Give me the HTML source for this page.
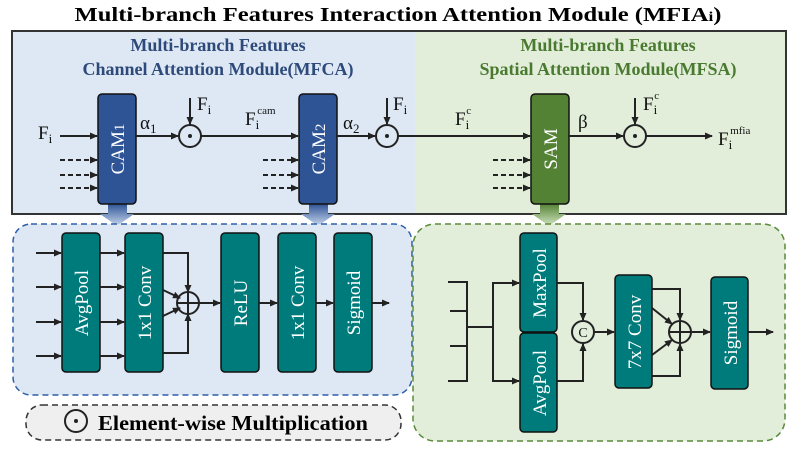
<!DOCTYPE html>
<html><head><meta charset="utf-8"><style>body{margin:0;background:#fff}svg{display:block}svg text{font-family:'Liberation Serif','Times New Roman',Times,serif}</style></head><body>
<svg width="797" height="452" viewBox="0 0 797 452" xmlns="http://www.w3.org/2000/svg" font-family="Liberation Serif, Times New Roman, serif">
<defs>
<marker id="a" markerWidth="8" markerHeight="8" refX="7" refY="4" orient="auto" markerUnits="userSpaceOnUse"><path d="M0,0.5 L8,4 L0,7.5z" fill="#222"/></marker>
<linearGradient id="gb" x1="0" y1="0" x2="0" y2="1"><stop offset="0" stop-color="#2f5496"/><stop offset="1" stop-color="#c8d8ee"/></linearGradient>
<linearGradient id="gg" x1="0" y1="0" x2="0" y2="1"><stop offset="0" stop-color="#548235"/><stop offset="1" stop-color="#d2e6c4"/></linearGradient>
</defs>
<text x="398" y="21" text-anchor="middle" font-size="20" font-weight="bold" textLength="647" lengthAdjust="spacingAndGlyphs" font-family="Liberation Serif, serif">Multi-branch Features Interaction Attention Module (MFIA<tspan font-size="14">i</tspan>)</text>
<rect x="12" y="31" width="403" height="183" fill="#dde8f4"/>
<rect x="415" y="31" width="371" height="183" fill="#e2eeda"/>
<rect x="12" y="31" width="774" height="183" fill="none" stroke="#333" stroke-width="2"/>
<g font-weight="bold" font-size="18" text-anchor="middle" fill="#2e4a7a" font-family="Liberation Serif, serif"><text x="218" y="51">Multi-branch Features</text><text x="218" y="75">Channel Attention Module(MFCA)</text></g>
<g font-weight="bold" font-size="18" text-anchor="middle" fill="#4a7a30" font-family="Liberation Serif, serif"><text x="608" y="51">Multi-branch Features</text><text x="608" y="75">Spatial Attention Module(MFSA)</text></g>
<path d="M108,204 H127 V214 H134 L117,226 L100,214 H108z" fill="url(#gb)"/>
<path d="M309,204 H328 V214 H335 L318,226 L301,214 H309z" fill="url(#gb)"/>
<path d="M540,204 H559 V214 H566 L549,226 L532,214 H540z" fill="url(#gg)"/>
<rect x="98" y="94" width="38" height="110" rx="4" fill="#2f5496" stroke="#111" stroke-width="1.5"/>
<rect x="299" y="94" width="38" height="110" rx="4" fill="#2f5496" stroke="#111" stroke-width="1.5"/>
<rect x="531" y="94" width="38" height="110" rx="4" fill="#548235" stroke="#111" stroke-width="1.5"/>
<g fill="#fff" font-size="19" text-anchor="middle" font-family="Liberation Serif, serif">
<text transform="translate(124,149) rotate(-90)">CAM<tspan font-size="15">1</tspan></text>
<text transform="translate(325,149) rotate(-90)">CAM<tspan font-size="15">2</tspan></text>
<text transform="translate(557,149) rotate(-90)">SAM</text></g>
<g stroke="#222" stroke-width="2" fill="none">
<line x1="60" y1="136" x2="97" y2="136" marker-end="url(#a)"/>
<line x1="136" y1="136" x2="178" y2="136" marker-end="url(#a)"/>
<line x1="190" y1="98" x2="190" y2="124" marker-end="url(#a)"/>
<line x1="201" y1="136" x2="298" y2="136" marker-end="url(#a)"/>
<line x1="337" y1="136" x2="375" y2="136" marker-end="url(#a)"/>
<line x1="387" y1="98" x2="387" y2="124" marker-end="url(#a)"/>
<line x1="398" y1="136" x2="530" y2="136" marker-end="url(#a)"/>
<line x1="569" y1="136" x2="623" y2="136" marker-end="url(#a)"/>
<line x1="635" y1="98" x2="635" y2="124" marker-end="url(#a)"/>
<line x1="646" y1="136" x2="712" y2="136" marker-end="url(#a)"/>
<g stroke-dasharray="5,3">
<line x1="60" y1="160" x2="97" y2="160" marker-end="url(#a)"/><line x1="60" y1="175" x2="97" y2="175" marker-end="url(#a)"/><line x1="60" y1="188" x2="97" y2="188" marker-end="url(#a)"/>
<line x1="263" y1="160" x2="298" y2="160" marker-end="url(#a)"/><line x1="263" y1="175" x2="298" y2="175" marker-end="url(#a)"/><line x1="263" y1="188" x2="298" y2="188" marker-end="url(#a)"/>
<line x1="493" y1="160" x2="530" y2="160" marker-end="url(#a)"/><line x1="493" y1="175" x2="530" y2="175" marker-end="url(#a)"/><line x1="493" y1="188" x2="530" y2="188" marker-end="url(#a)"/>
</g>
<circle cx="190" cy="136" r="11"/><circle cx="387" cy="136" r="11"/><circle cx="635" cy="136" r="11"/>
</g>
<g fill="#222"><circle cx="190" cy="136" r="2"/><circle cx="387" cy="136" r="2"/><circle cx="635" cy="136" r="2"/></g>
<g font-size="19" fill="#111" font-family="Liberation Serif, serif">
<text x="38" y="139">F<tspan font-size="13" dy="4">i</tspan></text>
<text x="140" y="129">α<tspan font-size="13" dy="4">1</tspan></text>
<text x="197" y="110">F<tspan font-size="13" dy="4">i</tspan></text>
<text x="245" y="125">F<tspan font-size="13" dy="4">i</tspan><tspan font-size="11" dx="-2" dy="-15">cam</tspan></text>
<text x="343" y="129">α<tspan font-size="13" dy="4">2</tspan></text>
<text x="393" y="110">F<tspan font-size="13" dy="4">i</tspan></text>
<text x="455" y="125">F<tspan font-size="13" dy="4">i</tspan><tspan font-size="11" dx="-3" dy="-15">c</tspan></text>
<text x="578" y="128">β</text>
<text x="643" y="110">F<tspan font-size="13" dy="4">i</tspan><tspan font-size="11" dx="-3" dy="-15">c</tspan></text>
<text x="718" y="145">F<tspan font-size="13" dy="4">i</tspan><tspan font-size="11" dx="-2" dy="-15">mfia</tspan></text>
</g>
<rect x="13" y="224" width="399" height="171" rx="18" fill="#dde8f4" stroke="#2f5fa8" stroke-width="1.5" stroke-dasharray="6,4"/>
<g fill="#007b7b" stroke="#111" stroke-width="1.5">
<rect x="62" y="233" width="38" height="139" rx="4"/><rect x="125" y="233" width="38" height="139" rx="4"/>
<rect x="221" y="233" width="38" height="139" rx="4"/><rect x="278" y="233" width="38" height="139" rx="4"/><rect x="334" y="233" width="38" height="139" rx="4"/>
</g>
<g fill="#fff" font-size="19" text-anchor="middle" font-family="Liberation Serif, serif">
<text transform="translate(88,303) rotate(-90)">AvgPool</text>
<text transform="translate(151,303) rotate(-90)">1x1 Conv</text>
<text transform="translate(247,303) rotate(-90)">ReLU</text>
<text transform="translate(304,303) rotate(-90)">1x1 Conv</text>
<text transform="translate(360,303) rotate(-90)">Sigmoid</text>
</g>
<g stroke="#222" stroke-width="2" fill="none">
<line x1="36" y1="253" x2="61" y2="253" marker-end="url(#a)"/><line x1="36" y1="287" x2="61" y2="287" marker-end="url(#a)"/><line x1="36" y1="322" x2="61" y2="322" marker-end="url(#a)"/><line x1="36" y1="356" x2="61" y2="356" marker-end="url(#a)"/>
<line x1="100" y1="253" x2="124" y2="253" marker-end="url(#a)"/><line x1="100" y1="287" x2="124" y2="287" marker-end="url(#a)"/><line x1="100" y1="322" x2="124" y2="322" marker-end="url(#a)"/><line x1="100" y1="356" x2="124" y2="356" marker-end="url(#a)"/>
<polyline points="163,253 188,253 188,292" marker-end="url(#a)"/>
<polyline points="163,353 188,353 188,314" marker-end="url(#a)"/>
<line x1="163" y1="290" x2="180" y2="298" marker-end="url(#a)"/>
<line x1="163" y1="316" x2="180" y2="308" marker-end="url(#a)"/>
<circle cx="188" cy="303" r="11"/><line x1="177" y1="303" x2="199" y2="303"/><line x1="188" y1="292" x2="188" y2="314"/>
<line x1="199" y1="303" x2="220" y2="303" marker-end="url(#a)"/>
<line x1="259" y1="303" x2="277" y2="303" marker-end="url(#a)"/>
<line x1="316" y1="303" x2="333" y2="303" marker-end="url(#a)"/>
<line x1="372" y1="303" x2="389" y2="303" marker-end="url(#a)"/>
</g>
<rect x="26" y="405" width="375" height="35" rx="16" fill="#efefef" stroke="#333" stroke-width="1.5" stroke-dasharray="6,4"/>
<circle cx="76" cy="421" r="11" fill="none" stroke="#222" stroke-width="2"/><circle cx="76" cy="421" r="2" fill="#222"/>
<text x="98" y="430" font-size="21" font-weight="bold" textLength="270" lengthAdjust="spacingAndGlyphs" font-family="Liberation Serif, serif">Element-wise Multiplication</text>
<rect x="413" y="224" width="372" height="217" rx="22" fill="#e2eeda" stroke="#5a8a3a" stroke-width="1.5" stroke-dasharray="6,4"/>
<g fill="#007b7b" stroke="#111" stroke-width="1.5">
<rect x="520" y="233" width="37" height="99" rx="4"/><rect x="520" y="333" width="37" height="99" rx="4"/>
<rect x="615" y="275" width="37" height="113" rx="4"/><rect x="711" y="277" width="37" height="112" rx="4"/>
</g>
<g fill="#fff" font-size="19" text-anchor="middle" font-family="Liberation Serif, serif">
<text transform="translate(546,283) rotate(-90)">MaxPool</text>
<text transform="translate(546,383) rotate(-90)">AvgPool</text>
<text transform="translate(641,332) rotate(-90)">7x7 Conv</text>
<text transform="translate(737,333) rotate(-90)">Sigmoid</text>
</g>
<g stroke="#222" stroke-width="2" fill="none">
<line x1="448" y1="282" x2="467" y2="282"/><line x1="450" y1="311" x2="467" y2="311"/><line x1="450" y1="346" x2="467" y2="346"/><line x1="448" y1="381" x2="467" y2="381"/>
<line x1="467" y1="281" x2="467" y2="382"/>
<line x1="467" y1="327" x2="493" y2="327"/>
<polyline points="519,283 493,283 493,381 519,381"/>
<line x1="500" y1="283" x2="519" y2="283" marker-end="url(#a)"/><line x1="500" y1="381" x2="519" y2="381" marker-end="url(#a)"/>
<polyline points="557,283 583,283 583,320" marker-end="url(#a)"/>
<polyline points="557,381 583,381 583,344" marker-end="url(#a)"/>
<circle cx="583" cy="332" r="11"/>
<line x1="594" y1="332" x2="614" y2="332" marker-end="url(#a)"/>
<polyline points="652,289 680,289 680,320" marker-end="url(#a)"/>
<polyline points="652,376 680,376 680,344" marker-end="url(#a)"/>
<line x1="652" y1="308" x2="672" y2="324" marker-end="url(#a)"/>
<line x1="652" y1="355" x2="672" y2="340" marker-end="url(#a)"/>
<circle cx="680" cy="332" r="11"/><line x1="669" y1="332" x2="691" y2="332"/><line x1="680" y1="321" x2="680" y2="343"/>
<line x1="691" y1="332" x2="710" y2="332" marker-end="url(#a)"/>
<line x1="748" y1="332" x2="773" y2="332" marker-end="url(#a)"/>
</g>
<text x="583" y="337" font-size="14" text-anchor="middle" font-family="Liberation Sans, sans-serif" fill="#111">C</text>
</svg>
</body></html>
